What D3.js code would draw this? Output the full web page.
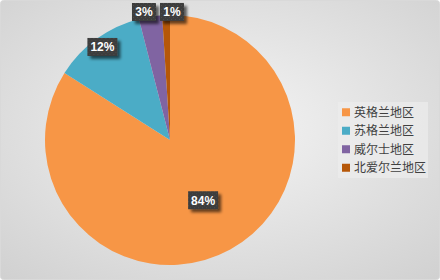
<!DOCTYPE html>
<html>
<head>
<meta charset="utf-8">
<script src="https://cdn.jsdelivr.net/npm/d3@7"></script>
<style>
  body { margin: 0; background: #ffffff; }
  svg { display: block; }
</style>
</head>
<body>
<svg width="440" height="280"></svg>
<script>
var regions = ["英格兰地区", "苏格兰地区", "威尔士地区", "北爱尔兰地区"];
var shares = [84, 12, 3, 1];
var colors = ["#f79646", "#4bacc6", "#8064a2", "#b65708"];

var width = 440, height = 280;
var cx = 170, cy = 140, radius = 125;

var svg = d3.select("svg");
var defs = svg.append("defs");

// background gradient
var bg = defs.append("radialGradient")
    .attr("id", "bgGrad")
    .attr("cx", "50%").attr("cy", "45%").attr("r", "75%");
bg.append("stop").attr("offset", "0%").attr("stop-color", "#f5f5f5");
bg.append("stop").attr("offset", "100%").attr("stop-color", "#d0d0d0");

// label box texture
var pat = defs.append("pattern")
    .attr("id", "dots")
    .attr("width", 4).attr("height", 4)
    .attr("patternUnits", "userSpaceOnUse");
pat.append("rect").attr("width", 4).attr("height", 4).attr("fill", "#3c3c3c");
pat.append("rect").attr("x", 1).attr("y", 1).attr("width", 1).attr("height", 1).attr("fill", "#4c4c4c");
pat.append("rect").attr("x", 3).attr("y", 3).attr("width", 1).attr("height", 1).attr("fill", "#4c4c4c");

var shadow = defs.append("filter").attr("id", "shadow")
    .attr("x", "-30%").attr("y", "-30%").attr("width", "170%").attr("height", "170%");
shadow.append("feGaussianBlur").attr("in", "SourceAlpha").attr("stdDeviation", 1.5);
shadow.append("feOffset").attr("dx", 3).attr("dy", 3).attr("result", "off");
shadow.append("feComponentTransfer").append("feFuncA").attr("type", "linear").attr("slope", 0.6);
var merge = shadow.append("feMerge");
merge.append("feMergeNode");
merge.append("feMergeNode").attr("in", "SourceGraphic");

svg.append("rect")
    .attr("x", 0.5).attr("y", 0.5)
    .attr("width", width - 1).attr("height", height - 1)
    .attr("rx", 3)
    .attr("fill", "url(#bgGrad)")
    .attr("stroke", "#d9d9d9");

// Pie
var pie = d3.pie().sort(null).value(function(d) { return d; });
var arcs = pie(shares);
var arc = d3.arc().innerRadius(0).outerRadius(radius);

var g = svg.append("g").attr("transform", "translate(" + cx + ", " + cy + ")");

g.selectAll("path")
    .data(arcs)
    .enter()
        .append("path")
        .attr("d", arc)
        .attr("fill", function(d, i) { return colors[i]; });

// Labels: big slices inside, tiny ones pushed to the top edge
var bigArc = d3.arc().innerRadius(radius * 0.55).outerRadius(radius * 0.55);
var midArc = d3.arc().innerRadius(radius * 0.92).outerRadius(radius * 0.92);
var outArc = d3.arc().innerRadius(radius * 1.025).outerRadius(radius * 1.025);

var labelPos = arcs.map(function(d) {
    var share = d.value / d3.sum(shares);
    var p;
    if (share > 0.5) p = bigArc.centroid(d);
    else if (share > 0.08) p = midArc.centroid(d);
    else p = outArc.centroid(d);
    return { x: p[0], y: p[1], text: d.value + "%", small: share <= 0.08 };
});

// spread the small labels apart so they don't overlap
var small = labelPos.filter(function(p) { return p.small; });
for (var k = small.length - 2; k >= 0; k--) {
    if (small[k + 1].x - small[k].x < 28) {
        small[k].x = small[k + 1].x - 28;
    }
}
small.forEach(function(p) {
    p.x += 6;
    p.y = Math.min(p.y, -radius - 3);
});

var lab = g.selectAll("g.lbl")
    .data(labelPos)
    .enter()
        .append("g")
        .attr("class", "lbl")
        .attr("transform", function(d) { return "translate(" + d.x + ", " + d.y + ")"; });

lab.append("rect")
    .attr("x", function(d) { return d.text.length > 2 ? -15 : -12; })
    .attr("y", -9)
    .attr("width", function(d) { return d.text.length > 2 ? 30 : 24; })
    .attr("height", 18)
    .attr("fill", "url(#dots)")
    .attr("filter", "url(#shadow)");

lab.append("text")
    .attr("text-anchor", "middle")
    .attr("dy", "0.36em")
    .attr("font-family", "Liberation Sans, Arial, sans-serif")
    .attr("font-size", 12)
    .attr("font-weight", "bold")
    .attr("fill", "#ffffff")
    .text(function(d) { return d.text; });

// Legend
var legend = svg.append("g").attr("transform", "translate(338, 102)");

legend.append("rect")
    .attr("width", 90).attr("height", 76)
    .attr("fill", "#ececec")
    .attr("opacity", 0.7);

var itemY = d3.scaleBand().domain(regions).range([1, 75]);

var item = legend.selectAll("g.item")
    .data(regions)
    .enter()
        .append("g")
        .attr("class", "item")
        .attr("transform", function(d) {
            return "translate(0, " + (itemY(d) + itemY.bandwidth() / 2) + ")";
        });

item.append("rect")
    .attr("x", 4).attr("y", -4)
    .attr("width", 8).attr("height", 8)
    .attr("fill", function(d, i) { return colors[i]; });

item.append("text")
    .attr("x", 16)
    .attr("dy", "0.36em")
    .attr("font-family", "Noto Sans CJK SC, sans-serif")
    .attr("font-size", 12)
    .attr("fill", "#404040")
    .text(function(d) { return d; });
</script>
</body>
</html>
